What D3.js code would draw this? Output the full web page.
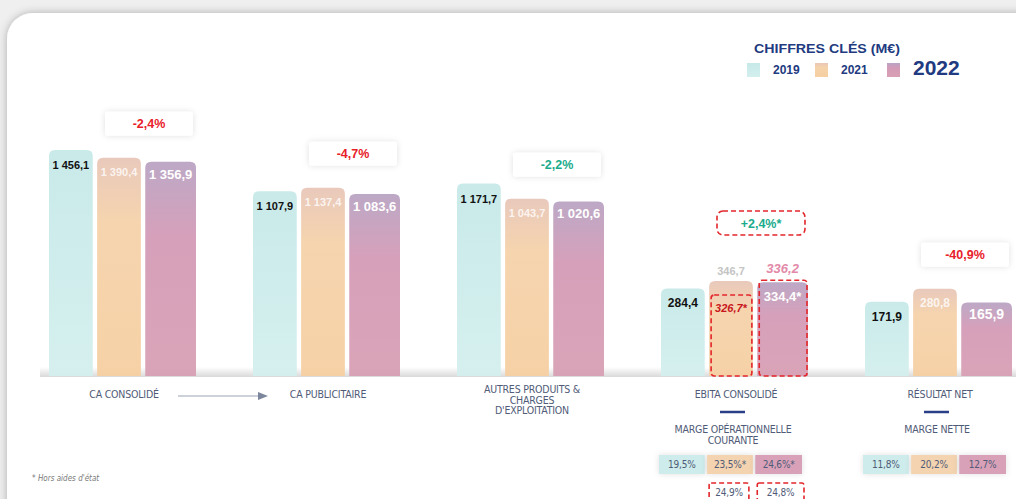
<!DOCTYPE html>
<html>
<head>
<meta charset="utf-8">
<script src="https://cdn.jsdelivr.net/npm/d3@7"></script>
<style>
  body { margin: 0; background: #efefef; }
  svg { display: block; }
  .cat { font-family: "DejaVu Sans Condensed", "DejaVu Sans", sans-serif; font-size: 10.5px; fill: #505b77; letter-spacing: -0.2px; }
  .val { font-family: "Liberation Sans", Arial, sans-serif; font-weight: bold; }
</style>
</head>
<body>
<svg id="chart"></svg>
<script>
var width = 1016,
    height = 499;

// data
var categories = ["CA CONSOLIDÉ", "CA PUBLICITAIRE", "AUTRES PRODUITS & CHARGES D'EXPLOITATION", "EBITA CONSOLIDÉ", "RÉSULTAT NET"];
var catLines = [["CA CONSOLIDÉ"], ["CA PUBLICITAIRE"], ["AUTRES PRODUITS &", "CHARGES", "D'EXPLOITATION"], ["EBITA CONSOLIDÉ"], ["RÉSULTAT NET"]];
var years = ["2019", "2021", "2022"];
var v2019 = [1456.1, 1107.9, 1171.7, 284.4, 171.9];
var v2021 = [1390.4, 1137.4, 1043.7, 346.7, 280.8];
var v2022 = [1356.9, 1083.6, 1020.6, 336.2, 165.9];
var changes = ["-2,4%", "-4,7%", "-2,2%", "+2,4%*", "-40,9%"];
var changeGood = [false, false, true, true, false];
// EBITA hors aides d'état
var ebitaExcl = [null, 326.7, 334.4];
var margeOp = ["19,5%", "23,5%*", "24,6%*"];
var margeOpExcl = [null, "24,9%", "24,8%"];
var margeNette = ["11,8%", "20,2%", "12,7%"];

var fmt = function(v) {
  var s = d3.format(",.1f")(v);
  return s.replace(/,/g, " ").replace(".", ",");
};

var svg = d3.select("#chart").attr("width", width).attr("height", height);
var defs = svg.append("defs");

// gradients per year
var gradStops = {
  "2019": [["0%", "#c6e9e8"], ["100%", "#d3efee"]],
  "2021": [["0%", "#e8c6b8"], ["30%", "#f5d2aa"], ["100%", "#f6cfa2"]],
  "2022": [["0%", "#b9a4c3"], ["35%", "#d49bb7"], ["100%", "#d89fb4"]]
};
years.forEach(function(y) {
  var g = defs.append("linearGradient").attr("id", "g" + y)
      .attr("x1", 0).attr("x2", 0).attr("y1", 0).attr("y2", 1);
  gradStops[y].forEach(function(s) {
    g.append("stop").attr("offset", s[0]).attr("stop-color", s[1]);
  });
});
var base = defs.append("linearGradient").attr("id", "baseShade")
    .attr("x1", 0).attr("x2", 0).attr("y1", 0).attr("y2", 1);
base.append("stop").attr("offset", "0%").attr("stop-color", "#ffffff");
base.append("stop").attr("offset", "100%").attr("stop-color", "#d9d9d9");

var cardF = defs.append("filter").attr("id", "cardShadow")
    .attr("x", "-5%").attr("y", "-5%").attr("width", "110%").attr("height", "110%");
cardF.append("feDropShadow").attr("dx", 0).attr("dy", 0).attr("stdDeviation", 4)
    .attr("flood-color", "#000").attr("flood-opacity", 0.28);
var boxF = defs.append("filter").attr("id", "boxShadow")
    .attr("x", "-30%").attr("y", "-60%").attr("width", "160%").attr("height", "220%");
boxF.append("feDropShadow").attr("dx", 0).attr("dy", 0).attr("stdDeviation", 3)
    .attr("flood-color", "#000").attr("flood-opacity", 0.12);

// card
svg.append("rect")
    .attr("x", 7).attr("y", 13)
    .attr("width", 1060).attr("height", 540)
    .attr("rx", 26)
    .attr("fill", "#fff")
    .attr("filter", "url(#cardShadow)");

// scales
var baseline = 376;
var x0 = d3.scaleBand().domain(categories).range([49, 1069]);
var x1 = d3.scaleBand().domain(years).range([0, 141]).paddingInner(0.07);
var y = d3.scaleLinear().domain([0, 1456.1]).range([322, 150]);
var barW = function(yr) { return x1.bandwidth() + (yr === "2022" ? 6 : -1); };

var rows = categories.map(function(c, i) {
  return {cat: c, i: i, vals: [
    {year: "2019", v: v2019[i]},
    {year: "2021", v: v2021[i]},
    {year: "2022", v: v2022[i]}
  ]};
});

// baseline shade
svg.append("rect")
    .attr("x", 40).attr("y", baseline - 9)
    .attr("width", 976).attr("height", 10)
    .attr("fill", "url(#baseShade)");

function topRounded(x, yTop, w, h, r) {
  return "M" + x + "," + (yTop + h) +
    "V" + (yTop + r) +
    "Q" + x + "," + yTop + " " + (x + r) + "," + yTop +
    "H" + (x + w - r) +
    "Q" + (x + w) + "," + yTop + " " + (x + w) + "," + (yTop + r) +
    "V" + (yTop + h) + "Z";
}

var group = svg.selectAll(".grp")
    .data(rows)
  .enter().append("g")
    .attr("class", "grp")
    .attr("transform", function(d) { return "translate(" + x0(d.cat) + ",0)"; });

group.selectAll(".bar")
    .data(function(d) { return d.vals; })
  .enter().append("path")
    .attr("class", "bar")
    .attr("d", function(d) {
      return topRounded(x1(d.year), y(d.v), barW(d.year), baseline - y(d.v), 6);
    })
    .attr("fill", function(d) { return "url(#g" + d.year + ")"; })
    .attr("opacity", 0.95);

// value labels
var labelStyle = {
  "2019": {fill: "#111", size: 11, dy: 19},
  "2021": {fill: "rgba(255,255,255,0.8)", size: 11, dy: 18},
  "2022": {fill: "#fff", size: 13, dy: 17}
};
group.each(function(d) {
  var g = d3.select(this);
  d.vals.forEach(function(b) {
    var st = labelStyle[b.year];
    var cx = x1(b.year) + barW(b.year) / 2;
    if (d.i === 3 && b.year !== "2019") {
      // EBITA: total above bar, hors aides inside
      var k = b.year === "2021" ? 1 : 2;
      g.append("text").attr("class", "val")
          .attr("x", cx).attr("y", y(b.v) - (b.year === "2021" ? 6 : 9))
          .attr("text-anchor", "middle")
          .attr("font-size", b.year === "2021" ? 11 : 13)
          .attr("font-style", b.year === "2022" ? "italic" : "normal")
          .attr("fill", b.year === "2021" ? "#c4c4c4" : "#e38aa9")
          .text(fmt(b.v));
      var top = b.year === "2021" ? y(b.v) + 14 : y(b.v) - 2;
      g.append("rect")
          .attr("x", x1(b.year) + 2).attr("y", top)
          .attr("width", barW(b.year) - 3).attr("height", baseline - top)
          .attr("rx", 3)
          .attr("fill", "none").attr("stroke", "#e3262b")
          .attr("stroke-width", 1.6).attr("stroke-dasharray", "5,3");
      g.append("text").attr("class", "val")
          .attr("x", cx).attr("y", b.year === "2021" ? top + 17 : y(b.v) + 19)
          .attr("text-anchor", "middle")
          .attr("font-size", b.year === "2021" ? 11 : 13)
          .attr("font-style", b.year === "2021" ? "italic" : "normal")
          .attr("fill", b.year === "2021" ? "#c8161d" : "#fff")
          .text(fmt(ebitaExcl[k]) + "*");
      return;
    }
    g.append("text").attr("class", "val")
        .attr("x", cx).attr("y", y(b.v) + st.dy)
        .attr("text-anchor", "middle")
        .attr("font-size", d.i >= 3 ? st.size + 1 : st.size)
        .attr("fill", st.fill)
        .text(fmt(b.v));
  });

  // change badge
  var mx = Math.max(v2021[d.i], v2022[d.i]);
  var bx = x0.bandwidth() / 2 - 2;
  var by = y(mx) - (d.i === 3 ? 58 : 34);
  var dashed = d.i === 3;
  g.append("rect")
      .attr("x", bx - 44).attr("y", by - 12)
      .attr("width", 88).attr("height", 24)
      .attr("rx", dashed ? 6 : 3)
      .attr("fill", "#fff")
      .attr("stroke", dashed ? "#e3262b" : "none")
      .attr("stroke-width", 1.6)
      .attr("stroke-dasharray", "5,3")
      .attr("filter", dashed ? null : "url(#boxShadow)");
  g.append("text").attr("class", "val")
      .attr("x", bx).attr("y", by + 4.5)
      .attr("text-anchor", "middle")
      .attr("font-size", 12.5)
      .attr("fill", changeGood[d.i] ? "#1aab8c" : "#e8202a")
      .text(changes[d.i]);

  // category label
  var ct = g.append("text").attr("class", "cat")
      .attr("x", 75).attr("text-anchor", "middle")
      .attr("y", catLines[d.i].length > 1 ? 393 : 398);
  catLines[d.i].forEach(function(l, j) {
    ct.append("tspan").attr("x", 75).attr("dy", j ? 10.5 : 0).text(l);
  });
});

// arrow CA consolidé -> CA publicitaire
svg.append("line")
    .attr("x1", 178).attr("x2", 260)
    .attr("y1", 396).attr("y2", 396)
    .attr("stroke", "#9aa2b4").attr("stroke-width", 1);
svg.append("path")
    .attr("d", "M258,392L268,396L258,400Z")
    .attr("fill", "#7c869c");

// margins under EBITA and Résultat net
function marginBlock(ci, title, vals, excl) {
  var gx = x0(categories[ci]);
  var cx = gx + 72;
  svg.append("line")
      .attr("x1", cx - 13).attr("x2", cx + 12)
      .attr("y1", 412).attr("y2", 412)
      .attr("stroke", "#2a3f86").attr("stroke-width", 2.5);
  var t = svg.append("text").attr("class", "cat")
      .attr("x", cx).attr("y", 433).attr("text-anchor", "middle");
  title.forEach(function(l, j) {
    t.append("tspan").attr("x", cx).attr("dy", j ? 10.5 : 0).text(l);
  });
  var bx = function(yr) { return gx + x1(yr) - 2; };
  var fills = {"2019": "#cdeceb", "2021": "#f3d3b0", "2022": "#d9a1b7"};
  years.forEach(function(yr, k) {
    var w = barW(yr) - (yr === "2022" ? 4 : -2);
    svg.append("rect")
        .attr("x", bx(yr)).attr("y", 455)
        .attr("width", w).attr("height", 19)
        .attr("fill", fills[yr])
        .attr("filter", "url(#boxShadow)");
    svg.append("text").attr("class", "cat")
        .attr("x", bx(yr) + w / 2).attr("y", 468)
        .attr("text-anchor", "middle")
        .style("font-size", "10px")
        .attr("fill", yr === "2022" ? "#fff" : "#5d6577")
        .text(vals[k]);
    if (excl && excl[k]) {
      svg.append("rect")
          .attr("x", bx(yr) + 2).attr("y", 483)
          .attr("width", barW(yr) - 4).attr("height", 22)
          .attr("rx", 2)
          .attr("fill", "#fff").attr("stroke", "#e3262b")
          .attr("stroke-width", 1.6).attr("stroke-dasharray", "5,3");
      svg.append("text").attr("class", "cat")
          .attr("x", bx(yr) + barW(yr) / 2).attr("y", 496)
          .attr("text-anchor", "middle").attr("fill", "#5d6577")
          .style("font-size", "10px")
          .text(excl[k]);
    }
  });
}
marginBlock(3, ["MARGE OPÉRATIONNELLE", "COURANTE"], margeOp, margeOpExcl);
marginBlock(4, ["MARGE NETTE"], margeNette, null);

// footnote
svg.append("text")
    .attr("x", 32).attr("y", 481)
    .attr("font-family", "DejaVu Sans Condensed, sans-serif")
    .attr("font-style", "italic")
    .attr("font-size", 8)
    .attr("fill", "#7a7a7a")
    .text("* Hors aides d'état");

// legend
var legend = svg.append("g").attr("class", "legend");
legend.append("text").attr("class", "val")
    .attr("x", 754).attr("y", 53)
    .attr("font-size", 13)
    .attr("textLength", 146).attr("lengthAdjust", "spacingAndGlyphs")
    .attr("fill", "#213a80")
    .text("CHIFFRES CLÉS (M€)");
var legX = {"2019": 747, "2021": 815, "2022": 887};
var legSize = {"2019": 12, "2021": 12, "2022": 21};
years.forEach(function(yr) {
  legend.append("rect")
      .attr("x", legX[yr]).attr("y", 63)
      .attr("width", 13).attr("height", 14)
      .attr("fill", "url(#g" + yr + ")");
  legend.append("text").attr("class", "val")
      .attr("x", legX[yr] + 26).attr("y", yr === "2022" ? 75 : 74)
      .attr("font-size", legSize[yr])
      .attr("fill", "#213a80")
      .text(yr);
});
</script>
</body>
</html>
